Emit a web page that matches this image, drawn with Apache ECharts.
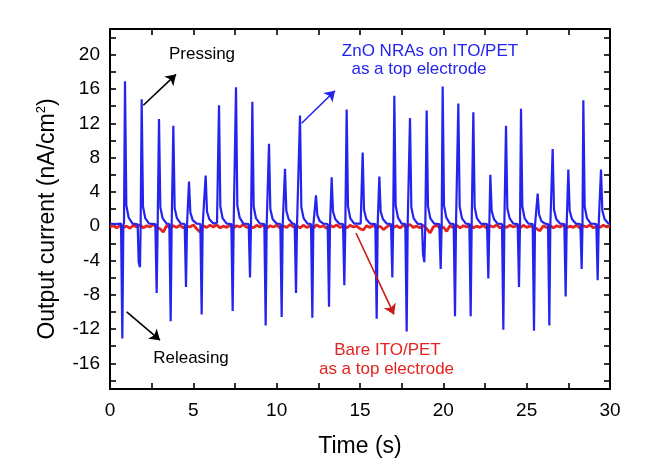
<!DOCTYPE html>
<html>
<head>
<meta charset="utf-8">
<script src="https://cdn.jsdelivr.net/npm/echarts@6/dist/echarts.min.js"></script>
<style>
html,body{margin:0;padding:0;background:#fff;}
#c{width:662px;height:463px;}
</style>
</head>
<body>
<div id="c"></div>
<script>
// ---- axis ticks / labels ----
const xTicks = [0,2.5,5,7.5,10,12.5,15,17.5,20,22.5,25,27.5,30];
const xLabels = [0,5,10,15,20,25,30];
const yTicks = [-18,-16,-14,-12,-10,-8,-6,-4,-2,0,2,4,6,8,10,12,14,16,18,20,22];
const yLabels = [-16,-12,-8,-4,0,4,8,12,16,20];

// ---- ZnO NRAs on ITO/PET (blue) : [time s, current nA/cm2] ----
const znoData = [
[0,0.3],[0.3,0.25],
[0.66,0.3],[0.74,-13.1],[0.80,0.1],[0.84,0.4],[0.90,16.9],[0.98,2.4],[1.12,1.0],[1.35,0.3],
[1.66,0.2],[1.72,-4.2],[1.80,-4.8],[1.84,0.2],[1.90,14.8],[1.98,2.3],[2.12,0.9],[2.35,0.3],
[2.72,0.25],[2.80,-7.8],[2.86,0.1],[2.88,0.3],[2.94,12.5],[3.02,2.2],[3.16,0.9],[3.40,0.3],
[3.56,0.25],[3.64,-11.1],[3.70,0.1],[3.74,0.3],[3.80,11.7],[3.88,2.1],[4.02,0.9],[4.25,0.3],
[4.48,0.25],[4.56,-7.1],[4.62,0.1],[4.68,0.3],[4.74,5.2],[4.82,1.6],[4.96,0.7],[5.20,0.3],
[5.42,0.25],[5.50,-10.3],[5.56,0.1],[5.68,0.3],[5.74,5.9],[5.82,1.7],[5.96,0.8],[6.20,0.3],
[6.42,0.4],[6.54,14.1],[6.62,2.3],[6.76,0.9],[7.00,0.3],
[7.28,0.25],[7.36,-9.9],[7.42,0.1],[7.50,0.3],[7.56,16.2],[7.64,2.4],[7.78,1.0],[8.00,0.3],
[8.32,0.25],[8.40,-6.0],[8.46,0.1],[8.48,0.3],[8.54,14.5],[8.62,2.3],[8.76,0.9],[9.00,0.3],
[9.26,0.25],[9.34,-11.6],[9.40,0.1],[9.48,0.3],[9.54,9.6],[9.62,2.0],[9.76,0.8],[10.00,0.3],
[10.22,0.25],[10.30,-10.6],[10.36,0.1],[10.44,0.3],[10.50,6.7],[10.58,1.8],[10.72,0.8],[10.95,0.3],
[11.08,0.25],[11.16,-7.8],[11.22,0.1],[11.34,0.3],[11.40,12.9],[11.48,2.2],[11.62,0.9],[11.85,0.3],
[12.06,0.25],[12.14,-10.7],[12.20,0.1],[12.30,0.3],[12.36,3.6],[12.44,1.3],[12.58,0.6],[12.80,0.3],
[13.06,0.25],[13.14,-9.4],[13.20,0.1],[13.24,0.3],[13.30,5.7],[13.38,1.7],[13.52,0.8],[13.75,0.3],
[13.98,0.25],[14.06,-6.9],[14.12,0.1],[14.14,0.3],[14.20,13.6],[14.28,2.3],[14.42,0.9],[14.65,0.3],
[15.04,0.3],[15.16,8.6],[15.24,1.9],[15.38,0.8],[15.60,0.3],
[15.92,0.25],[16.00,-10.8],[16.06,0.1],[16.10,0.3],[16.16,5.8],[16.24,1.7],[16.38,0.8],[16.60,0.3],
[16.86,0.25],[16.94,-6.0],[16.99,0.2],[17.06,15.2],[17.14,2.4],[17.28,1.0],[17.50,0.3],
[17.72,0.25],[17.80,-12.3],[17.86,0.1],[17.94,0.3],[18.00,12.6],[18.08,2.2],[18.22,0.9],[18.45,0.3],
[18.72,0.2],[18.78,-3.3],[18.86,-4.2],[18.92,0.2],[18.94,0.3],[19.00,13.5],[19.08,2.3],[19.22,0.9],[19.45,0.3],
[19.76,0.25],[19.84,-5.0],[19.90,0.2],[19.96,16.3],[20.04,2.4],[20.18,1.0],[20.40,0.3],
[20.62,0.25],[20.70,-10.5],[20.76,0.1],[20.84,0.3],[20.90,14.3],[20.98,2.3],[21.12,0.9],[21.35,0.3],
[21.56,0.25],[21.64,-10.5],[21.70,0.1],[21.74,0.3],[21.80,13.3],[21.88,2.2],[22.02,0.9],[22.25,0.3],
[22.62,0.25],[22.70,-6.1],[22.76,0.2],[22.82,6.0],[22.90,1.8],[23.04,0.8],[23.25,0.3],
[23.52,0.25],[23.60,-12.1],[23.66,0.1],[23.70,0.3],[23.76,11.7],[23.84,2.1],[23.98,0.9],[24.20,0.3],
[24.46,0.25],[24.54,-7.1],[24.60,0.2],[24.66,13.7],[24.74,2.3],[24.88,0.9],[25.10,0.3],
[25.36,0.25],[25.44,-12.2],[25.50,0.1],[25.60,0.3],[25.66,3.8],[25.74,1.4],[25.88,0.6],[26.10,0.3],
[26.28,0.25],[26.36,-11.6],[26.42,0.1],[26.50,0.3],[26.56,9.0],[26.64,1.9],[26.78,0.8],[27.00,0.3],
[27.26,0.25],[27.34,-8.2],[27.40,0.1],[27.44,0.3],[27.50,6.6],[27.58,1.8],[27.72,0.8],[27.95,0.3],
[28.22,0.25],[28.30,-5.0],[28.35,0.2],[28.40,14.7],[28.48,2.3],[28.62,0.9],[28.85,0.3],
[29.18,0.25],[29.26,-6.3],[29.32,0.1],[29.40,0.3],[29.46,6.6],[29.54,1.8],[29.68,0.8],[29.90,0.3],[30,0.3]
];

// ---- Bare ITO/PET (red) : sampled every 0.2 s from 0 to 30 s ----
const bareStep = 0.2;
const bareValues = [
-0.1,0.05,-0.2,0.1,-0.15,0.0,-0.25,0.1,-0.1,0.15,
-0.2,0.05,-0.1,0.2,-0.15,-0.3,-0.7,0.1,-0.2,0.05,
-0.15,0.1,-0.2,0.0,-0.1,0.15,-0.3,-0.7,0.05,-0.15,
0.1,-0.1,0.15,-0.2,0.0,-0.15,0.1,-0.2,0.05,-0.1,
0.2,-0.15,0.0,-0.2,0.1,-0.1,0.15,-0.25,0.05,-0.1,
0.1,-0.2,0.0,-0.15,0.2,-0.1,0.05,-0.2,0.1,-0.15,
0.0,-0.2,0.15,-0.1,0.05,-0.25,0.1,-0.1,0.15,-0.15,
0.05,-0.2,0.1,-0.1,0.0,-0.3,-0.45,0.05,-0.15,0.1,
-0.2,0.0,-0.4,-0.1,0.15,-0.15,0.05,-0.2,0.1,-0.1,
0.2,-0.15,0.0,-0.2,0.1,-0.3,-0.8,-0.1,0.1,-0.2,
-0.1,-0.6,0.05,-0.15,0.1,-0.2,0.05,-0.1,0.15,-0.2,
0.0,-0.15,0.1,-0.25,0.05,-0.1,0.15,-0.2,0.0,-0.15,
0.1,-0.1,0.05,-0.2,0.1,-0.15,0.0,-0.1,-0.3,-0.55,
0.05,-0.15,0.1,-0.2,0.05,-0.1,0.15,-0.2,0.0,-0.15,
0.1,-0.25,0.05,-0.1,0.15,-0.2,0.0,-0.15,0.1,-0.1,
0.0
];

const FONT = "'Liberation Sans', Arial, sans-serif";
const BLUE = '#2424ee';
const RED = '#e32420';

const bareData = bareValues.map((v, i) => [+(i * bareStep).toFixed(2), v]);

const chart = echarts.init(document.getElementById('c'), null, {renderer: 'canvas'});

const axisLine = {show: true, onZero: false, lineStyle: {color: '#000', width: 2}};
const tick = (vals) => ({show: true, inside: true, length: 6, customValues: vals, lineStyle: {color: '#000', width: 1.6}});

const option = {
  animation: false,
  backgroundColor: '#fff',
  grid: {left: 110, right: 52, top: 29, bottom: 70, containLabel: false},
  xAxis: [
    {type: 'value', min: 0, max: 30, position: 'bottom',
     axisLine: axisLine, axisTick: tick(xTicks), splitLine: {show: false},
     axisLabel: {customValues: xLabels, color: '#000', fontSize: 19, fontFamily: FONT, margin: 12},
     name: 'Time (s)', nameLocation: 'middle', nameGap: 46,
     nameTextStyle: {color: '#000', fontSize: 23, fontFamily: FONT}},
    {type: 'value', min: 0, max: 30, position: 'top',
     axisLine: axisLine, axisTick: tick(xTicks), splitLine: {show: false}, axisLabel: {show: false}}
  ],
  yAxis: [
    {type: 'value', min: -19, max: 23, position: 'left',
     axisLine: axisLine, axisTick: tick(yTicks), splitLine: {show: false},
     axisLabel: {customValues: yLabels, color: '#000', fontSize: 19, fontFamily: FONT, margin: 10},
     name: '{a|Output current (nA/cm}{s|2}{a|)}', nameLocation: 'middle', nameGap: 50, nameRotate: 90,
     nameTextStyle: {color: '#000', fontSize: 23, fontFamily: FONT, padding: [0, 20, 0, 0],
       rich: {a: {fontSize: 23, fontFamily: FONT, color: '#000'},
              s: {fontSize: 13, fontFamily: FONT, color: '#000', padding: [0, 0, 12, 0]}}}},
    {type: 'value', min: -19, max: 23, position: 'right',
     axisLine: axisLine, axisTick: tick(yTicks), splitLine: {show: false}, axisLabel: {show: false}}
  ],
  series: [
    {name: 'Bare ITO/PET', type: 'line', data: bareData, showSymbol: false, smooth: false,
     lineStyle: {color: RED, width: 2.8}, itemStyle: {color: RED}, z: 2},
    {name: 'ZnO NRAs on ITO/PET', type: 'line', data: znoData, showSymbol: false,
     lineStyle: {color: BLUE, width: 2.2}, itemStyle: {color: BLUE}, z: 3,
     markLine: {
       silent: true, symbol: ['none', 'arrow'], symbolSize: 10, label: {show: false},
       data: [
         [{coord: [2.0, 14.1], lineStyle: {color: '#000', width: 1.6, type: 'solid'}}, {coord: [3.96, 17.7]}],
         [{coord: [1.0, -10.0], lineStyle: {color: '#000', width: 1.6, type: 'solid'}}, {coord: [3.0, -13.3]}],
         [{coord: [11.5, 12.0], lineStyle: {color: BLUE, width: 1.6, type: 'solid'}}, {coord: [13.5, 15.8]}],
         [{coord: [14.76, -0.8], lineStyle: {color: '#c8181a', width: 1.6, type: 'solid'}}, {coord: [17.04, -10.3]}]
       ]
     }}
  ]
};
chart.setOption(option);

// annotation texts positioned in data coordinates
const notes = [
  {t: 5.52, v: 20.0, text: 'Pressing', color: '#000'},
  {t: 4.86, v: -15.45, text: 'Releasing', color: '#000'},
  {t: 19.2, v: 20.35, text: 'ZnO NRAs on ITO/PET', color: BLUE},
  {t: 18.54, v: 18.27, text: 'as a top electrode', color: BLUE},
  {t: 16.65, v: -14.45, text: 'Bare ITO/PET', color: RED},
  {t: 16.59, v: -16.76, text: 'as a top electrode', color: RED}
];
const graphics = notes.map(n => {
  const p = chart.convertToPixel({xAxisIndex: 0, yAxisIndex: 0}, [n.t, n.v]);
  return {type: 'text', x: p[0], y: p[1], z: 10,
    style: {text: n.text, fill: n.color, font: '17px ' + FONT, textAlign: 'center', textVerticalAlign: 'middle'}};
});
chart.setOption({graphic: graphics});
</script>
</body>
</html>
